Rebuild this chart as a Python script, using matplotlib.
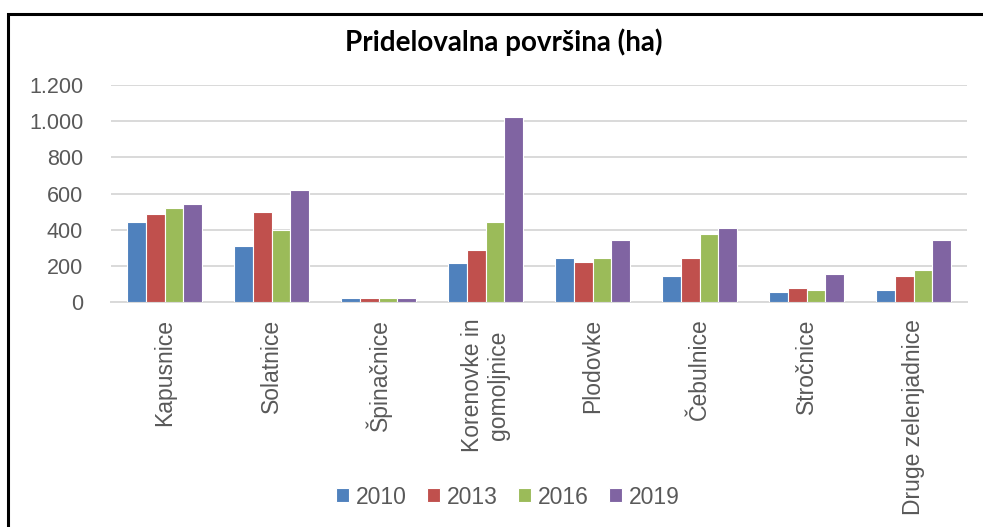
import matplotlib.pyplot as plt
from matplotlib.patches import Rectangle
from matplotlib.ticker import FuncFormatter
import numpy as np

plt.rcParams['font.family'] = ['Liberation Sans', 'DejaVu Sans']

kategorije = ["Kapusnice", "Solatnice", "Špinačnice", "Korenovke in\ngomoljnice",
              "Plodovke", "Čebulnice", "Stročnice", "Druge zelenjadnice"]
leta = ["2010", "2013", "2016", "2019"]
v2010 = [444, 311, 24, 213, 244, 144, 57, 68]
v2013 = [488, 500, 24, 289, 222, 244, 79, 146]
v2016 = [522, 400, 24, 444, 244, 378, 68, 179]
v2019 = [544, 622, 24, 1025, 344, 411, 157, 344]
barve = ["#4F81BD", "#C0504D", "#9BBB59", "#8064A2"]

fig = plt.figure(figsize=(9.83, 5.27), dpi=100)
ax = fig.add_axes([111/983, 1 - 302/527, (967 - 111)/983, (302 - 85)/527])

x = np.arange(len(kategorije))
slot = 0.173
for j, (vals, leto) in enumerate(zip([v2010, v2013, v2016, v2019], leta)):
    ax.bar(x + (j - 1.5) * slot, vals, width=slot, color=barve[j],
           edgecolor="white", linewidth=0.8, label=leto, zorder=3)

ax.set_xlim(-0.5, len(kategorije) - 0.5)
ax.set_ylim(0, 1200)
ax.set_yticks(range(0, 1201, 200))
ax.yaxis.set_major_formatter(FuncFormatter(lambda v, p: f"{int(v):,}".replace(",", ".")))
ax.grid(axis="y", color="#d9d9d9", linewidth=1.4, zorder=0)
for s in ["top", "right", "left"]:
    ax.spines[s].set_visible(False)
ax.spines["bottom"].set_color("#d9d9d9")
ax.spines["bottom"].set_linewidth(1.4)

ax.set_xticks(x)
ax.set_xticklabels(kategorije, rotation=90, fontsize=16.5, color="#595959")
ax.tick_params(axis="x", length=0, pad=12)
ax.tick_params(axis="y", length=0, pad=20, labelsize=15.5, labelcolor="#595959")

fig.text(504/983, 1 - 42/527, "Pridelovalna površina (ha)", ha="center", va="center",
         fontsize=20, fontweight="bold", family=["Lato", "DejaVu Sans"])

fig.legend(loc="center", bbox_to_anchor=(508/983, 1 - 497/527), ncol=4, frameon=False,
           fontsize=16.5, labelcolor="#595959", handlelength=0.55, handleheight=0.55,
           handletextpad=0.3, columnspacing=0.9)

fig.patches.append(Rectangle((8/983, -0.1), 1.2, 1.1 - 14/527, transform=fig.transFigure,
                             fill=False, edgecolor="black", linewidth=2.2, clip_on=False))

fig.savefig("out.png", dpi=100)
